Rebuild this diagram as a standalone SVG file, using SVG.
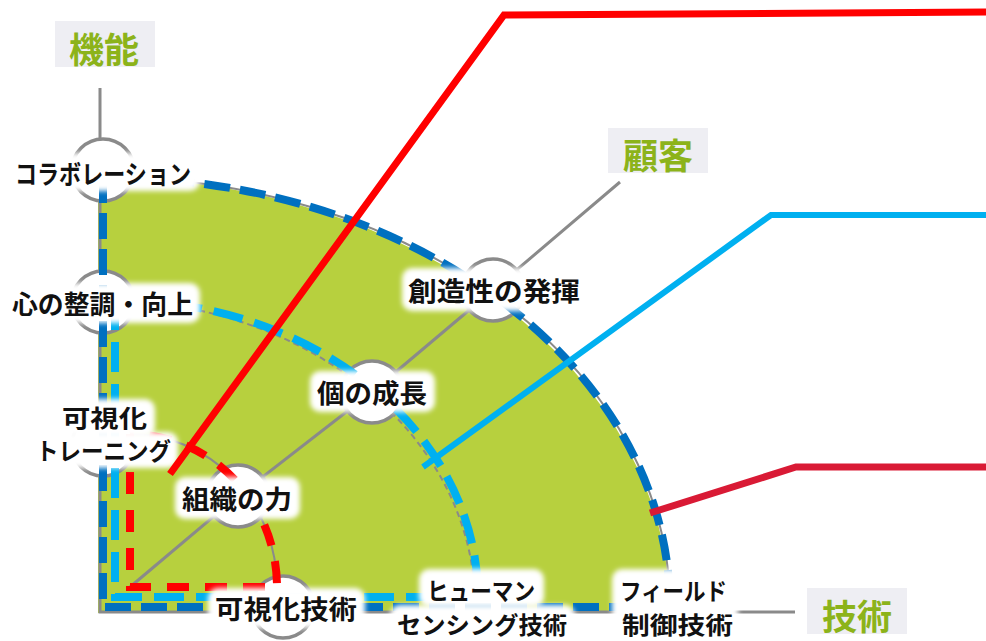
<svg xmlns="http://www.w3.org/2000/svg" width="986" height="641" viewBox="0 0 986 641">
<defs>
<filter id="soft" x="-20%" y="-40%" width="140%" height="180%"><feGaussianBlur stdDeviation="2.5"/></filter>
<style>
.axis{stroke:#8a8a8a;stroke-width:3;fill:none}
.gthin{stroke:#8a8a8a;stroke-width:2;fill:none}
.node{fill:#fff;stroke:#8a8a8a;stroke-width:3.5}
.lbg{fill:#fff;filter:url(#soft)}
.lbl{font-family:"Noto Sans CJK JP","Noto Sans",sans-serif;font-weight:bold;fill:#111;font-size:26px;dominant-baseline:central}
.two{font-size:24px}
.head{font-family:"Noto Sans CJK JP","Noto Sans",sans-serif;font-weight:bold;fill:#8cb31a;font-size:35px;dominant-baseline:central;text-anchor:middle}
.hbg{fill:#eeeef3}
.call{fill:none;stroke-linejoin:miter}
</style>
</defs>
<rect width="986" height="641" fill="#fff"/>
<!-- green region -->
<path d="M98,613 L98,177 A572 436 0 0 1 670,613 Z" fill="#b7d03e"/>
<!-- axes and gray guides -->
<g id="axes">
<path class="axis" d="M100,88 V612 H795"/>
<path class="axis" d="M130,587 L238,496 L372,392 L493,290 L620,182"/>
<path class="gthin" d="M670,607 A567 430 0 0 0 103,177"/>
<path class="gthin" d="M475,605 A372 305 0 0 0 103,300" stroke-dasharray="6 4" stroke-width="2.5"/>
<path class="gthin" d="M277,587 A147 153 0 0 0 130,434"/>
</g>
<!-- node circles -->
<g id="circles">
<circle class="node" cx="103" cy="170" r="31"/>
<circle class="node" cx="103" cy="302" r="31"/>
<circle class="node" cx="103" cy="445" r="31"/>
<circle class="node" cx="238" cy="496" r="31"/>
<circle class="node" cx="372" cy="392" r="31"/>
<circle class="node" cx="493" cy="290" r="31"/>
<circle class="node" cx="283" cy="607" r="31"/>
<circle class="node" cx="480" cy="607" r="31"/>
<circle class="node" cx="668" cy="607" r="31"/>
</g>
<!-- dashed rings -->
<g id="rings">
<path d="M103,177 V607 H670 A567 430 0 0 0 103,177" fill="none" stroke="#0070c0" stroke-width="8" stroke-dasharray="26 10"/>
<path d="M115,300 V597 H478 A363 297 0 0 0 115,300" fill="none" stroke="#00b0f0" stroke-width="8" stroke-dasharray="30 12"/>
<path d="M130,434 V587 H277 A147 153 0 0 0 130,434" fill="none" stroke="#ff0000" stroke-width="8" stroke-dasharray="22 16"/>
</g>
<!-- nodes with labels -->
<g id="n-collab">
<rect class="lbg" x="8" y="153" width="192" height="38" rx="10"/>
<text class="lbl" x="15" y="172" textLength="176" lengthAdjust="spacingAndGlyphs" font-size="23">コラボレーション</text>
</g>
<g id="n-kokoro">
<rect class="lbg" x="5" y="283" width="195" height="40" rx="10"/>
<text class="lbl" x="12" y="302" textLength="181" lengthAdjust="spacingAndGlyphs">心の整調・向上</text>
</g>
<g id="n-kashika-tr">
<rect class="lbg" x="55" y="399" width="100" height="38" rx="10"/>
<rect class="lbg" x="30" y="432" width="148" height="36" rx="10"/>
<text class="lbl two" x="62" y="416" textLength="85" lengthAdjust="spacingAndGlyphs">可視化</text>
<text class="lbl two" x="36" y="449" textLength="135" lengthAdjust="spacingAndGlyphs">トレーニング</text>
</g>
<g id="n-soshiki">
<rect class="lbg" x="175" y="477" width="125" height="42" rx="10"/>
<text class="lbl" x="182" y="497" textLength="110" lengthAdjust="spacingAndGlyphs">組織の力</text>
</g>
<g id="n-ko">
<rect class="lbg" x="310" y="371" width="125" height="41" rx="10"/>
<text class="lbl" x="317" y="391" textLength="110" lengthAdjust="spacingAndGlyphs">個の成長</text>
</g>
<g id="n-souzou">
<rect class="lbg" x="402" y="268" width="186" height="43" rx="10"/>
<text class="lbl" x="408" y="289" textLength="172" lengthAdjust="spacingAndGlyphs">創造性の発揮</text>
</g>
<g id="n-kashika-gj">
<rect class="lbg" x="208" y="588" width="157" height="40" rx="10"/>
<text class="lbl" x="215" y="607" textLength="142" lengthAdjust="spacingAndGlyphs">可視化技術</text>
</g>
<g id="n-human">
<rect class="lbg" x="419" y="569" width="125" height="38" rx="10"/>
<rect class="lbg" x="390" y="605" width="185" height="40" rx="10"/>
<text class="lbl two" x="427" y="589" textLength="108" lengthAdjust="spacingAndGlyphs">ヒューマン</text>
<text class="lbl two" x="397" y="623" textLength="170" lengthAdjust="spacingAndGlyphs">センシング技術</text>
</g>
<g id="n-field">
<rect class="lbg" x="612" y="569" width="126" height="76" rx="10"/>
<text class="lbl two" x="620" y="589" textLength="107" lengthAdjust="spacingAndGlyphs">フィールド</text>
<text class="lbl two" x="622" y="623" textLength="111" lengthAdjust="spacingAndGlyphs">制御技術</text>
</g>
<!-- axis headings -->
<g id="h-kinou">
<rect class="hbg" x="55" y="21" width="100" height="46"/>
<text class="head" x="104" y="47">機能</text>
</g>
<g id="h-kokyaku">
<rect class="hbg" x="608" y="128" width="100" height="45"/>
<text class="head" x="658" y="153">顧客</text>
</g>
<g id="h-gijutsu">
<rect class="hbg" x="807" y="588" width="100" height="46"/>
<text class="head" x="857" y="614">技術</text>
</g>
<!-- callout connectors -->
<g id="connectors">
<polyline class="call" points="170,474 504,15 986,12" stroke="#ff0000" stroke-width="7"/>
<polyline class="call" points="423,467 771,215 986,215" stroke="#00b0f0" stroke-width="6"/>
<polyline class="call" points="650,513 796,467 986,467" stroke="#d91a35" stroke-width="7"/>
</g>
</svg>
